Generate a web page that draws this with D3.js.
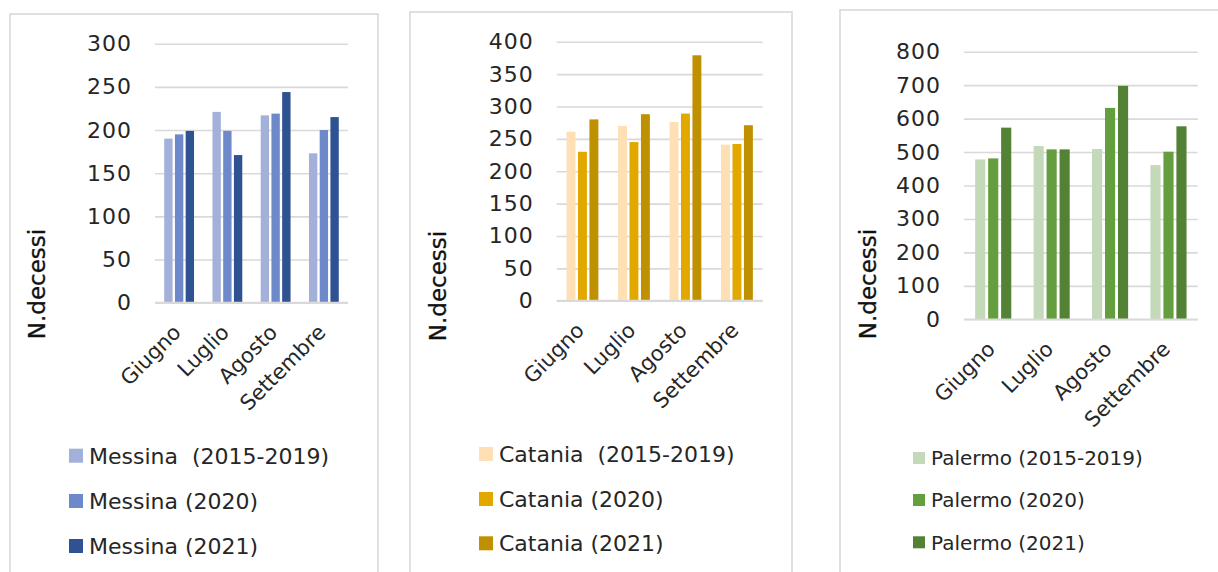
<!DOCTYPE html>
<html>
<head>
<meta charset="utf-8">
<script src="https://cdn.jsdelivr.net/npm/d3@7"></script>
<style>
  html, body { margin: 0; padding: 0; background: #fff; }
  svg { display: block; font-family: "DejaVu Sans", sans-serif; }
</style>
</head>
<body>
<svg id="chart" width="1218" height="572"></svg>
<script>
// Months on the category axis
const months = ["Giugno", "Luglio", "Agosto", "Settembre"];

// Deaths per month — Messina
const messina20152019 = [190, 221, 217, 173];
const messina2020 = [195, 199, 219, 200];
const messina2021 = [199, 171, 244, 215];

// Deaths per month — Catania
const catania20152019 = [261, 270, 276, 241];
const catania2020 = [230, 245, 289, 242];
const catania2021 = [280, 288, 379, 271];

// Deaths per month — Palermo
const palermo20152019 = [478, 518, 509, 461];
const palermo2020 = [481, 508, 632, 501];
const palermo2021 = [573, 508, 698, 577];

// Value-axis ticks for each city
const messinaTicks = [0, 50, 100, 150, 200, 250, 300];
const cataniaTicks = [0, 50, 100, 150, 200, 250, 300, 350, 400];
const palermoTicks = [0, 100, 200, 300, 400, 500, 600, 700, 800];

// Legend labels
const messinaLabels = ["Messina  (2015-2019)", "Messina (2020)", "Messina (2021)"];
const cataniaLabels = ["Catania  (2015-2019)", "Catania (2020)", "Catania (2021)"];
const palermoLabels = ["Palermo (2015-2019)", "Palermo (2020)", "Palermo (2021)"];

const yTitle = "N.decessi";

const panels = [
  {
    series: [messina20152019, messina2020, messina2021],
    labels: messinaLabels,
    ticks: messinaTicks,
    colors: ["#a2b0da", "#6e89ca", "#2f5292"],
    frame: { x0: 10, x1: 378, y0: 14 },
    plot: { x0: 155, x1: 348, yTop: 43.7, yBottom: 302.7 },
    titleAt: [37, 284],
    legend: { x: 69, ys: [455.7, 501, 546], box: 14, textX: 89, font: 22 }
  },
  {
    series: [catania20152019, catania2020, catania2021],
    labels: cataniaLabels,
    ticks: cataniaTicks,
    colors: ["#ffdfb4", "#e2a800", "#bf9000"],
    frame: { x0: 410, x1: 792, y0: 12 },
    plot: { x0: 556.7, x1: 762.7, yTop: 41.7, yBottom: 300.7 },
    titleAt: [438, 286],
    legend: { x: 479, ys: [454, 499, 543.3], box: 14, textX: 499, font: 22 }
  },
  {
    series: [palermo20152019, palermo2020, palermo2021],
    labels: palermoLabels,
    ticks: palermoTicks,
    colors: ["#c4d9ba", "#649e3e", "#548235"],
    frame: { x0: 840, x1: 1230, y0: 10 },
    plot: { x0: 964, x1: 1197.7, yTop: 51.7, yBottom: 319.3 },
    titleAt: [867.5, 284],
    legend: { x: 913, ys: [458, 500, 542.3], box: 12, textX: 931, font: 20 }
  }
];

const svg = d3.select("#chart");
const textColor = "#262626";
const gridColor = "#d9d9d9";

panels.forEach(p => {
  const g = svg.append("g");

  // chart frame
  g.append("rect")
    .attr("x", p.frame.x0).attr("y", p.frame.y0)
    .attr("width", p.frame.x1 - p.frame.x0)
    .attr("height", 600)
    .attr("fill", "#fff")
    .attr("stroke", gridColor).attr("stroke-width", 1.6);

  const yMax = p.ticks[p.ticks.length - 1];
  const y = d3.scaleLinear().domain([0, yMax]).range([p.plot.yBottom, p.plot.yTop]);
  const x = d3.scaleBand().domain(months).range([p.plot.x0, p.plot.x1]);
  const groupW = x.bandwidth() * 0.667;
  const xs = d3.scaleBand().domain([0, 1, 2]).range([0, groupW])
    .paddingInner(0.22).paddingOuter(0.11);

  // gridlines + value labels
  const yAxis = d3.axisLeft(y).tickValues(p.ticks)
    .tickSize(-(p.plot.x1 - p.plot.x0)).tickPadding(23).tickFormat(d3.format("d"));
  const ya = g.append("g").attr("transform", `translate(${p.plot.x0},0)`).call(yAxis);
  ya.select(".domain").remove();
  ya.selectAll(".tick line").attr("stroke", gridColor).attr("stroke-width", 1.6);
  ya.selectAll(".tick text")
    .attr("fill", textColor)
    .style("font-family", "'DejaVu Sans', sans-serif")
    .style("font-size", "22px")
    .style("letter-spacing", "1px");

  // bars
  p.series.forEach((vals, si) => {
    g.append("g").selectAll("rect")
      .data(vals)
      .join("rect")
      .attr("x", (d, i) => x(months[i]) + (x.bandwidth() - groupW) / 2 + xs(si))
      .attr("width", xs.bandwidth())
      .attr("y", d => y(d))
      .attr("height", d => y(0) - y(d))
      .attr("fill", p.colors[si]);
  });

  // baseline
  g.append("line")
    .attr("x1", p.plot.x0).attr("x2", p.plot.x1)
    .attr("y1", y(0)).attr("y2", y(0))
    .attr("stroke", gridColor).attr("stroke-width", 1.8);

  // rotated month labels
  const xAxis = d3.axisBottom(x).tickSize(0).tickPadding(0);
  const xa = g.append("g").attr("transform", `translate(0,${y(0)})`).call(xAxis);
  xa.select(".domain").remove();
  xa.selectAll(".tick text")
    .attr("fill", textColor)
    .attr("text-anchor", "end")
    .attr("x", 0).attr("y", 0).attr("dy", 0)
    .attr("transform", "translate(3,31) rotate(-45)")
    .style("font-family", "'DejaVu Sans', sans-serif")
    .style("font-size", "21px");

  // value-axis title
  g.append("text")
    .attr("transform", `translate(${p.titleAt[0] + 8},${p.titleAt[1]}) rotate(-90)`)
    .attr("text-anchor", "middle")
    .attr("fill", "#111")
    .style("font-size", "23px")
    .style("stroke", "#111").style("stroke-width", 0.3)
    .text(yTitle);

  // legend
  const lg = g.append("g");
  p.labels.forEach((lab, i) => {
    lg.append("rect")
      .attr("x", p.legend.x)
      .attr("y", p.legend.ys[i] - p.legend.box / 2)
      .attr("width", p.legend.box).attr("height", p.legend.box)
      .attr("fill", p.colors[i]);
    lg.append("text")
      .attr("x", p.legend.textX)
      .attr("y", p.legend.ys[i])
      .attr("dy", "0.36em")
      .attr("fill", textColor)
      .style("font-size", p.legend.font + "px")
      .style("white-space", "pre")
      .attr("xml:space", "preserve")
      .text(lab);
  });
});
</script>
</body>
</html>
